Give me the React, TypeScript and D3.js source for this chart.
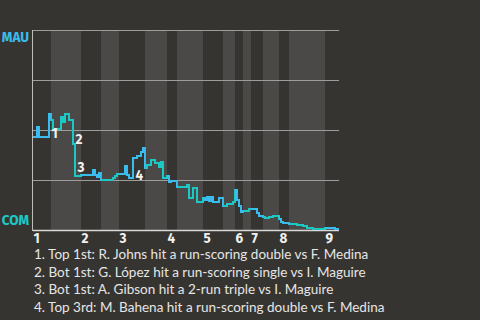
import React from "react";
import * as d3 from "d3";

const plays = [0,2,3,8,9,10,14,15,16,18,20,21,24,30,31,32,33,34,40,41,42,46,47,48,50,52,54,55,56,57,59,61,63,64,65,67,68,69,72,77,78,80,82,85,86,87,88,89,90,93,95,97,100,101,102,103,104,105,108,112,113,115,116,118,120,123,124,125,128,132,135,137,140,146,151];
const mauWinPct = [46.5,51.5,46.5,58,55,50.5,56.5,54,58,55,43,27,27.5,30,27.5,26.5,28.5,25,26,27,28,32,27.5,26,36,37,39,41,31,32.5,35,33.5,31.5,34,26,27,24,24.5,21.5,22.5,16,21,14,16,15,16.5,14.5,16.5,14,16,12,13,14,20,15,12,9,9.5,10.5,8.5,7,6.5,6,6.5,7,5.5,4,3.5,3,2.5,2,1,0.5,1,0.5];
const totalPlays = 153;
const halfInningStarts = [0,9,24,34,43,56,67,72,85,95,101,105,109,115,123,128,146];
const inningLabels = ["1","2","3","4","5","6","7","8","9"];
const eventPlays = [8,20,21,50];
const eventLabels = ["1","2","3","4"];
const notes = [
  "1. Top 1st: R. Johns hit a run-scoring double vs F. Medina",
  "2. Bot 1st: G. López hit a run-scoring single vs I. Maguire",
  "3. Bot 1st: A. Gibson hit a 2-run triple vs I. Maguire",
  "4. Top 3rd: M. Bahena hit a run-scoring double vs F. Medina",
];
const gridTicks = [0,25,50,75,100];
const teamTop = "MAU";
const teamBottom = "COM";

const BG = "#363430";
const BAND = "#4b4947";
const BLUE = "#3bbcee";
const TEAL = "#1cc8c4";
const FONT = "'Fira Sans', Lato, 'Open Sans', sans-serif";
const NOTE_FONT = "Lato, sans-serif";

export default function App() {
  const W = 480, H = 320;
  const x = d3.scaleLinear().domain([0, totalPlays]).range([33, 339]);
  const y = d3.scaleLinear().domain([0, 100]).range([230, 30]);
  const pts: [number, number][] = plays.map((p, i) => [p, mauWinPct[i]]);
  pts.push([totalPlays, mauWinPct[mauWinPct.length - 1]]);
  const line = d3.line<[number, number]>().x(d => x(d[0])).y(d => y(d[1])).curve(d3.curveStepAfter);
  const path = line(pts) || "";
  const bounds = halfInningStarts.map((s, i) => [s, i + 1 < halfInningStarts.length ? halfInningStarts[i + 1] : totalPlays]);
  const valAt = (p: number) => {
    let v = mauWinPct[0];
    plays.forEach((q, i) => { if (q <= p) v = mauWinPct[i]; });
    return v;
  };
  const labelDy = [1, 0, -4, 2];
  return (
    <svg width={W} height={H} style={{ position: "fixed", left: 0, top: 0, background: BG }}>
      <rect x={0} y={0} width={W} height={H} fill={BG} />
      <defs>
        {bounds.map((b, i) => (
          <clipPath id={`hi${i}`} key={i}>
            <rect x={x(b[0])} y={0} width={x(b[1]) - x(b[0])} height={H} />
          </clipPath>
        ))}
      </defs>
      {bounds.map((b, i) => (
        <rect key={i} x={x(b[0])} y={y(100)} width={x(b[1]) - x(b[0])} height={y(0) - y(100)} fill={i % 2 ? BAND : BG} />
      ))}
      {gridTicks.map(t => (
        <line key={t} x1={x(0)} x2={x(totalPlays)} y1={y(t) + 0.5} y2={y(t) + 0.5} stroke={t === 0 ? "#d8d8d8" : "#9d9d9d"} strokeWidth={t === 0 ? 1.5 : 1} />
      ))}
      <line x1={32.5} x2={32.5} y1={y(100)} y2={y(0) + 1} stroke="#bdbdbd" strokeWidth={1} />
      {bounds.map((b, i) => (
        <path key={i} d={path} fill="none" stroke={i % 2 ? TEAL : BLUE} strokeWidth={2} clipPath={`url(#hi${i})`} />
      ))}
      <g fontFamily={FONT} fontWeight="bold" fontSize={13.5}>
        {eventPlays.map((p, i) => {
          const lo = Math.min(valAt(p - 1), valAt(p));
          return (
            <text key={i} x={x(p) + 2.5} y={y(lo) + labelDy[i]} fill="#f2f2f2">{eventLabels[i]}</text>
          );
        })}
        <text x={29} y={41.7} textAnchor="end" fill={BLUE}>{teamTop}</text>
        <text x={29} y={225} textAnchor="end" fill={TEAL}>{teamBottom}</text>
        {inningLabels.map((l, i) => (
          <text key={l} x={x(halfInningStarts[i * 2]) + 0.5} y={242.5} fill="#f0f0f0">{l}</text>
        ))}
      </g>
      <g style={{ fontFamily: NOTE_FONT, fontWeight: 400, fontSize: "13.5px" }}>
        {notes.map((n, i) => (
          <text key={i} x={34} y={259 + i * 17.7} fill="#e6e6e6">{n}</text>
        ))}
      </g>
    </svg>
  );
}
